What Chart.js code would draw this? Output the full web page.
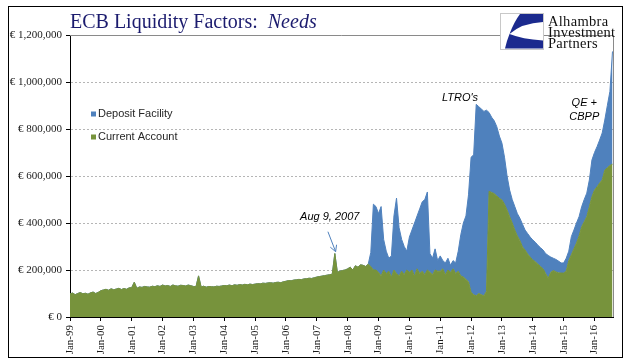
<!DOCTYPE html>
<html>
<head>
<meta charset="utf-8">
<script src="https://cdn.jsdelivr.net/npm/chart.js@4.4.1/dist/chart.umd.min.js"></script>
<style>
  html, body { margin: 0; padding: 0; background: #fff; }
  #wrap { position: relative; width: 641px; height: 361px; overflow: hidden; }
  #frame { position: absolute; left: 8px; top: 6px; width: 613px; height: 350px; border: 1px solid #000; }
  #chart { position: absolute; left: 0; top: 0; }
  #title { position: absolute; left: 70px; top: 11px; font: 20px/20px "Liberation Serif", serif; color: #1b1b6e; white-space: pre; }
  #title em { font-style: italic; }
  #logo { position: absolute; left: 500px; top: 13px; }
  #logoText { position: absolute; left: 548px; top: 16px; font: 14.5px/11px "Liberation Serif", serif; letter-spacing: 0.3px; color: #111; }
</style>
</head>
<body>
<div id="wrap">
  <div id="frame"></div>
  <canvas id="chart" width="641" height="361"></canvas>
  <div id="title">ECB Liquidity Factors:  <em>Needs</em></div>
  <svg id="logo" width="44" height="37" viewBox="0 0 44 37">
    <rect x="0.5" y="0.5" width="43" height="36" fill="#fff" stroke="#c8c8c8"/>
    <path d="M20,1 L43,1 L43,9 Q22,10 9.5,21 Q22,26 43,27.5 L43,35.5 L5,35.5 Q7,27 9.5,21 Q14,9 20,1 Z" fill="#1b2a8e"/>
  </svg>
  <div id="logoText">Alhambra<br>Investment<br>Partners</div>
</div>
<script>
// monthly values, Jan 1999 .. Aug 2016, in thousands of € million (100 = € 100,000)
const startYear = 1999;

const tickLabels = ['Jan-99', 'Jan-00', 'Jan-01', 'Jan-02', 'Jan-03', 'Jan-04', 'Jan-05', 'Jan-06', 'Jan-07',
  'Jan-08', 'Jan-09', 'Jan-10', 'Jan-11', 'Jan-12', 'Jan-13', 'Jan-14', 'Jan-15', 'Jan-16'];

const yTicks = [0, 200000, 400000, 600000, 800000, 1000000, 1200000];

const currentAccount = [
  98, 102, 95, 100, 104, 99, 101, 97, 103, 106, 100, 105,        // 1999
  112, 115, 118, 114, 120, 116, 119, 122, 117, 121, 118, 124,    // 2000
  125, 148, 122, 128, 126, 130, 128, 127, 131, 129, 133, 130,    // 2001
  136, 132, 134, 130, 136, 133, 131, 135, 134, 132, 136, 133,    // 2002
  130, 129, 175, 128, 131, 127, 130, 129, 128, 131, 130, 132,    // 2003
  134, 133, 136, 133, 137, 135, 138, 136, 139, 137, 140, 138,    // 2004
  140, 142, 141, 144, 143, 145, 146, 144, 147, 148, 146, 150,    // 2005
  152, 155, 154, 157, 158, 160, 159, 162, 163, 165, 164, 167,    // 2006
  170, 172, 174, 176, 178, 180, 182, 270, 190, 195, 198, 200,    // 2007
  205, 212, 200, 218, 212, 222, 220, 215, 225, 215, 200, 200,    // 2008
  190, 175, 200, 185, 195, 170, 200, 185, 175, 195, 180, 200,    // 2009
  190, 200, 175, 205, 185, 195, 180, 200, 190, 180, 200, 195,    // 2010
  195, 205, 180, 200, 190, 205, 185, 195, 175, 170, 160, 150,    // 2011
  105, 95, 90, 100, 95, 90, 110, 535, 530, 525, 515, 505,        // 2012
  498, 480, 455, 427, 400, 370, 345, 325, 298, 285, 268, 255,    // 2013
  243, 235, 225, 215, 205, 185, 165, 190, 198, 192, 188, 187,    // 2014
  187, 195, 240, 265, 290, 315, 345, 384, 405, 427, 469, 512,    // 2015
  540, 554, 570, 583, 625, 635, 645, 650                          // 2016
];

const depositFacility = [
  0, 0, 0, 0, 0, 0, 0, 0, 0, 0, 0, 0,                            // 1999
  0, 0, 0, 0, 0, 0, 0, 0, 0, 0, 0, 0,                            // 2000
  0, 0, 0, 0, 0, 0, 0, 0, 0, 0, 0, 0,                            // 2001
  0, 0, 0, 0, 0, 0, 0, 0, 0, 0, 0, 0,                            // 2002
  0, 0, 0, 0, 0, 0, 0, 0, 0, 0, 0, 0,                            // 2003
  0, 0, 0, 0, 0, 0, 0, 0, 0, 0, 0, 0,                            // 2004
  0, 0, 0, 0, 0, 0, 0, 0, 0, 0, 0, 0,                            // 2005
  0, 0, 0, 0, 0, 0, 0, 0, 0, 0, 0, 0,                            // 2006
  0, 0, 0, 0, 0, 0, 0, 0, 0, 0, 0, 0,                            // 2007
  0, 0, 0, 0, 0, 0, 0, 0, 0, 60, 280, 270,                       // 2008
  250, 295, 130, 95, 55, 90, 230, 321, 205, 135, 120, 80,        // 2009
  150, 170, 225, 225, 275, 295, 320, 332, 80, 70, 90, 45,        // 2010
  65, 35, 50, 50, 30, 35, 45, 85, 175, 230, 270, 370,            // 2011
  575, 595, 815, 795, 790, 785, 770, 335, 320, 310, 295, 265,    // 2012
  242, 200, 145, 113, 100, 100, 95, 95, 97, 85, 87, 85,          // 2013
  85, 83, 80, 80, 80, 85, 97, 65, 52, 53, 50, 43,                // 2014
  43, 55, 40, 77, 80, 85, 82, 85, 95, 100, 114, 156,             // 2015
  160, 171, 183, 200, 213, 265, 315, 480                          // 2016
];

// text notes placed in data space (year, € million)
const notes = [
  { text: 'Aug 9, 2007', x: 2007.42, y: 425000 },
  { text: "LTRO's", x: 2011.64, y: 932000 },
  { text: 'QE +', x: 2015.67, y: 911000 },
  { text: 'CBPP', x: 2015.67, y: 851000 }
];
const arrow = { from: [2007.36, 363000], to: [2007.61, 278000] };

const blue = '#4F81BD';
const green = '#77933C';
const serif = { family: 'Liberation Serif', size: 11 };

const months = currentAccount.map((_, i) => startYear + i / 12);
const toPoints = arr => arr.map((v, i) => ({ x: months[i], y: v * 1000 }));

const overlay = {
  id: 'overlay',
  afterDraw(chart) {
    const { ctx, chartArea: a, scales: { x, y } } = chart;
    ctx.save();

    // plot area outline, top and right
    ctx.strokeStyle = '#8a8a8a';
    ctx.lineWidth = 1;
    ctx.beginPath();
    ctx.moveTo(a.left, a.top + 0.5);
    ctx.lineTo(a.right + 0.5, a.top + 0.5);
    ctx.lineTo(a.right + 0.5, a.bottom);
    ctx.stroke();

    // legend
    ctx.font = '11px "Liberation Sans"';
    ctx.textBaseline = 'middle';
    ctx.textAlign = 'left';
    [['Deposit Facility', blue, 79], ['Current Account', green, 102]].forEach(([label, c, dy]) => {
      ctx.fillStyle = c;
      ctx.fillRect(a.left + 21, a.top + dy - 2.5, 5, 5);
      ctx.fillStyle = '#262626';
      ctx.fillText(label, a.left + 28, a.top + dy);
    });

    // notes
    ctx.font = 'italic 11px "Liberation Sans"';
    ctx.fillStyle = '#000';
    ctx.textAlign = 'center';
    notes.forEach(n => ctx.fillText(n.text, x.getPixelForValue(n.x), y.getPixelForValue(n.y)));

    // arrow to Aug 2007
    const x0 = x.getPixelForValue(arrow.from[0]), y0 = y.getPixelForValue(arrow.from[1]);
    const x1 = x.getPixelForValue(arrow.to[0]), y1 = y.getPixelForValue(arrow.to[1]);
    const ang = Math.atan2(y1 - y0, x1 - x0);
    ctx.strokeStyle = '#4F81BD';
    ctx.beginPath();
    ctx.moveTo(x0, y0);
    ctx.lineTo(x1, y1);
    ctx.moveTo(x1 - 7 * Math.cos(ang - 0.5), y1 - 7 * Math.sin(ang - 0.5));
    ctx.lineTo(x1, y1);
    ctx.lineTo(x1 - 7 * Math.cos(ang + 0.5), y1 - 7 * Math.sin(ang + 0.5));
    ctx.stroke();

    ctx.restore();
  }
};

new Chart(document.getElementById('chart'), {
  type: 'line',
  data: {
    datasets: [
      {
        label: 'Current Account',
        data: toPoints(currentAccount),
        backgroundColor: green,
        borderColor: green,
        borderWidth: 1,
        fill: 'origin',
        pointRadius: 0,
        tension: 0
      },
      {
        label: 'Deposit Facility',
        data: toPoints(depositFacility),
        backgroundColor: blue,
        borderColor: blue,
        borderWidth: 1,
        fill: '-1',
        pointRadius: 0,
        tension: 0
      }
    ]
  },
  options: {
    responsive: false,
    animation: false,
    layout: { padding: { left: 0, top: 35, right: 28, bottom: 0 } },
    plugins: {
      legend: { display: false },
      tooltip: { enabled: false }
    },
    scales: {
      x: {
        type: 'linear',
        min: 1999,
        max: 2016.6,
        afterBuildTicks: s => { s.ticks = tickLabels.map((_, i) => ({ value: startYear + i })); },
        afterFit: s => { s.height = 44; },
        ticks: {
          autoSkip: false,
          minRotation: 90,
          maxRotation: 90,
          padding: 4,
          font: serif,
          color: '#1a1a1a',
          callback: (v, i) => tickLabels[i]
        },
        grid: { drawOnChartArea: false, tickLength: 4, tickColor: '#000' },
        border: { color: '#000', width: 1 }
      },
      y: {
        stacked: true,
        min: 0,
        max: 1200000,
        afterBuildTicks: s => { s.ticks = yTicks.map(v => ({ value: v })); },
        afterFit: s => { s.width = 70; },
        ticks: {
          padding: 4,
          font: serif,
          color: '#1a1a1a',
          callback: v => '€ ' + v.toLocaleString('en-US')
        },
        grid: { color: '#b5b5b5', tickLength: 4, tickColor: '#000' },
        border: { color: '#000', width: 1, dash: [2, 2] }
      }
    }
  },
  plugins: [overlay]
});
</script>
</body>
</html>
